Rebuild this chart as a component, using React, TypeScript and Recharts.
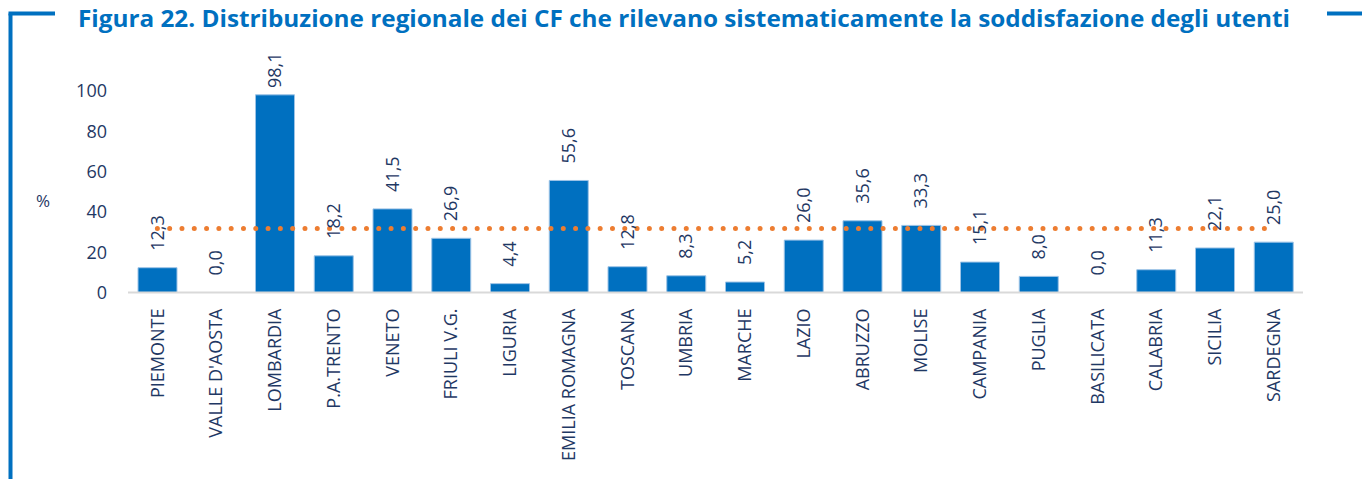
import { Bar, ComposedChart, LabelList, Line, XAxis, YAxis } from "recharts";

const REGIONI = [
  "PIEMONTE",
  "VALLE D'AOSTA",
  "LOMBARDIA",
  "P.A.TRENTO",
  "VENETO",
  "FRIULI V.G.",
  "LIGURIA",
  "EMILIA ROMAGNA",
  "TOSCANA",
  "UMBRIA",
  "MARCHE",
  "LAZIO",
  "ABRUZZO",
  "MOLISE",
  "CAMPANIA",
  "PUGLIA",
  "BASILICATA",
  "CALABRIA",
  "SICILIA",
  "SARDEGNA",
];

const VALORI = [12.3, 0, 98.1, 18.2, 41.5, 26.9, 4.4, 55.6, 12.8, 8.3, 5.2, 26.0, 35.6, 33.3, 15.1, 8.0, 0, 11.3, 22.1, 25.0];

// national reference line (dotted orange)
const MEDIA = [31.8, 31.8, 31.8, 31.8, 31.8, 31.8, 31.8, 31.8, 31.8, 31.8, 31.8, 31.8, 31.8, 31.8, 31.8, 31.8, 31.8, 31.8, 31.8, 31.8];

const Y_TICKS = [0, 20, 40, 60, 80, 100];

const TITLE = "Figura 22. Distribuzione regionale dei CF che rilevano sistematicamente la soddisfazione degli utenti";

const BLUE = "#0070C0";
const NAVY = "#1F3864";
const ORANGE = "#ED7D31";
const FONT = "'Open Sans', sans-serif";

const data = REGIONI.map((name, i) => ({ name, valore: VALORI[i], media: MEDIA[i] }));

const fmt = (v: number) => v.toFixed(1).replace(".", ",");

function CategoryTick({ x, y, payload }: any) {
  return (
    <text
      x={x}
      y={y + 14}
      transform={`rotate(-90, ${x}, ${y + 14})`}
      textAnchor="end"
      dy="0.35em"
      fill={NAVY}
      fontSize={18}
      fontFamily={FONT}
    >
      {payload.value}
    </text>
  );
}

// labels hang off an invisible line so that zero values still get one
function ValueLabel({ x, y, value }: any) {
  const cx = Number(x);
  const sy = Math.max(Number(y) - 17, 88);
  return (
    <text
      x={cx}
      y={sy}
      transform={`rotate(-90, ${cx}, ${sy})`}
      textAnchor="start"
      dy="0.35em"
      fill={NAVY}
      fontSize={18}
      fontFamily={FONT}
    >
      {fmt(Number(value))}
    </text>
  );
}

export default function App() {
  return (
    <div style={{ position: "absolute", left: 0, top: 0, width: 1362, height: 479, background: "#fff" }}>
      <ComposedChart
        width={1362}
        height={479}
        data={data}
        margin={{ top: 91, right: 59, bottom: 0, left: 0 }}
      >
        <XAxis
          dataKey="name"
          height={186.5}
          interval={0}
          tickLine={false}
          tickSize={0}
          axisLine={{ stroke: "#D9D9D9", strokeWidth: 2 }}
          tick={<CategoryTick />}
        />
        <YAxis
          width={128}
          domain={[0, 100]}
          ticks={Y_TICKS}
          axisLine={false}
          tickLine={false}
          tickSize={0}
          tickMargin={21}
          tick={{ fill: NAVY, fontSize: 18, fontFamily: FONT }}
        />
        <Bar dataKey="valore" fill={BLUE} stroke="#9DC3E6" strokeWidth={1} barSize={39} isAnimationActive={false} />
        <Line
          dataKey="media"
          stroke={ORANGE}
          strokeWidth={5}
          strokeDasharray="0 12.3"
          strokeLinecap="round"
          dot={false}
          activeDot={false}
          isAnimationActive={false}
        />
        <Line
          dataKey="valore"
          stroke="none"
          dot={false}
          activeDot={false}
          isAnimationActive={false}
        >
          <LabelList dataKey="valore" content={<ValueLabel />} />
        </Line>
      </ComposedChart>
      <svg width={1362} height={479} style={{ position: "absolute", left: 0, top: 0, pointerEvents: "none" }}>
        <line x1={10.5} y1={13.5} x2={10.5} y2={479} stroke={BLUE} strokeWidth={4} />
        <line x1={8.5} y1={13.5} x2={55} y2={13.5} stroke={BLUE} strokeWidth={4} />
        <line x1={1327} y1={13.5} x2={1362} y2={13.5} stroke={BLUE} strokeWidth={4} />
        <text
          x={78}
          y={27}
          textLength={1212}
          lengthAdjust="spacingAndGlyphs"
          fill={BLUE}
          fontSize={24}
          fontWeight={700}
          fontFamily={FONT}
        >
          {TITLE}
        </text>
        <text x={36} y={207} fill={NAVY} fontSize={17} fontFamily={FONT}>
          %
        </text>
      </svg>
    </div>
  );
}
